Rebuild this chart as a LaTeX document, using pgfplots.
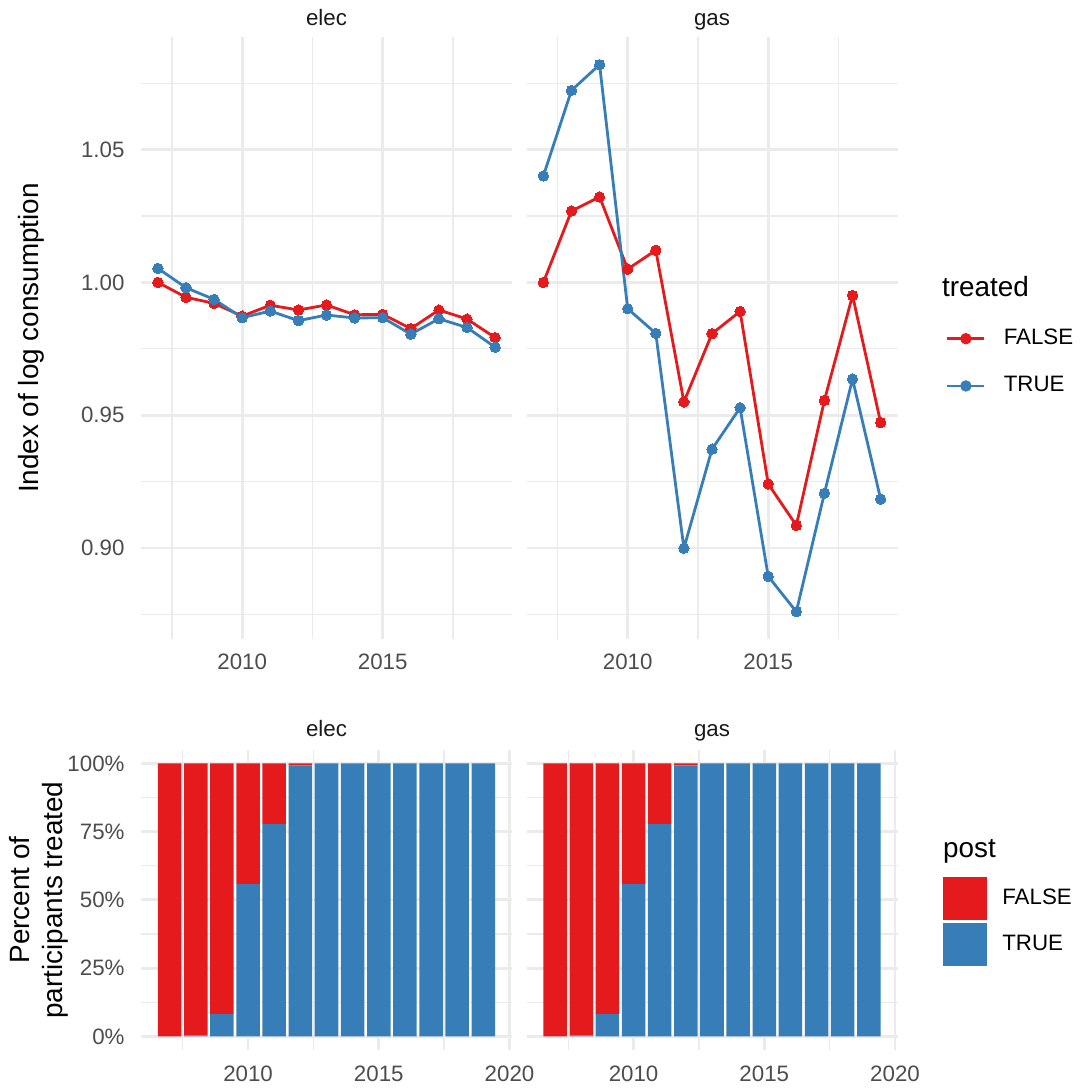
\documentclass[border=0pt]{standalone}
\usepackage{fontspec}
\setmainfont{Liberation Sans}
\usepackage{pgfplots}
\pgfplotsset{compat=1.18}

% one device pixel of the layout grid
\newlength\px
\setlength\px{0.3946pt}

\definecolor{setred}{HTML}{E41A1C}
\definecolor{setblue}{HTML}{377EB8}
\definecolor{gridgray}{HTML}{EBEBEB}
\definecolor{ticktext}{HTML}{4D4D4D}
\definecolor{striptext}{HTML}{1A1A1A}

\newcommand\ticksize{\fontsize{8.8}{10}\selectfont}
\newcommand\titlesize{\fontsize{11}{13}\selectfont}

\pgfplotsset{
  facet/.style={
    scale only axis, width=371\px,
    axis line style={draw=none},
    major tick length=0pt, minor tick length=0pt,
    grid=both,
    major grid style={draw=gridgray, line width=2.8\px},
    minor grid style={draw=gridgray, line width=1.4\px},
    scaled ticks=false,
    tick label style={font=\ticksize, text=ticktext, inner sep=0pt},
    yticklabel style={anchor=east, xshift=-16\px},
    xticklabel style={anchor=north, yshift=-14\px},
  },
  toprow/.style={
    facet, height=601.7\px,
    xmin=2006.4, xmax=2019.6, ymin=0.8657, ymax=1.0923,
    xtick={2010,2015}, xticklabels={2010,2015},
    minor xtick={2007.5,2012.5,2017.5},
    ytick={0.90,0.95,1.00,1.05},
    minor ytick={0.875,0.925,0.975,1.025,1.075},
  },
  bottomrow/.style={
    facet, height=300.3\px,
    xmin=2005.905, xmax=2020.095, ymin=-0.05, ymax=1.05,
    xtick={2010,2015,2020}, xticklabels={2010,2015,2020},
    minor xtick={2007.5,2012.5,2017.5},
    ytick={0,0.25,0.5,0.75,1},
    minor ytick={0.125,0.375,0.625,0.875},
    xticklabel style={yshift=-1\px},
    ybar stacked, bar width=0.9,
  },
  idxline/.style={line width=2.8\px, mark=none},
  idxpts/.style={only marks, mark=*, mark size=5.2\px,
    mark options={draw=#1, fill=#1, line width=0pt}},
  share/.style={fill=#1, draw=none},
}

% index of log consumption, by year
\pgfplotstableread{
year  elecF   elecT   gasF    gasT
2007  1.0000  1.0053  1.0000  1.0401
2008  0.9944  0.9980  1.0269  1.0723
2009  0.9921  0.9936  1.0322  1.0820
2010  0.9873  0.9867  1.0050  0.9901
2011  0.9914  0.9892  1.0121  0.9808
2012  0.9896  0.9856  0.9550  0.8999
2013  0.9915  0.9877  0.9807  0.9372
2014  0.9878  0.9866  0.9891  0.9528
2015  0.9880  0.9867  0.9241  0.8893
2016  0.9826  0.9805  0.9085  0.8760
2017  0.9896  0.9863  0.9556  0.9206
2018  0.9862  0.9830  0.9951  0.9636
2019  0.9792  0.9756  0.9472  0.9184
}\indexdata

% share of participants treated (post) by year
\pgfplotstableread{
year  postT  postF
2007  0.000  1.000
2008  0.004  0.996
2009  0.082  0.918
2010  0.558  0.442
2011  0.777  0.223
2012  0.993  0.007
2013  1.000  0.000
2014  1.000  0.000
2015  1.000  0.000
2016  1.000  0.000
2017  1.000  0.000
2018  1.000  0.000
2019  1.000  0.000
}\sharedata

\begin{document}
\begin{tikzpicture}
\path[use as bounding box, fill=white] (0,0) rectangle (1084\px,-1091\px);

% ---- top row: index of log consumption ----
\begin{axis}[toprow, at={(141\px,-639\px)}, anchor=south west,
  yticklabels={0.90,0.95,1.00,1.05}]
  \addplot[idxline, setred]  table[x=year, y=elecF] {\indexdata};
  \addplot[idxline, setblue] table[x=year, y=elecT] {\indexdata};
  \addplot[idxpts=setred]  table[x=year, y=elecF] {\indexdata};
  \addplot[idxpts=setblue] table[x=year, y=elecT] {\indexdata};
\end{axis}

\begin{axis}[toprow, at={(526.5\px,-639\px)}, anchor=south west,
  yticklabels={},
  legend style={at={(axis description cs:1.1307,0.5152)}, anchor=north west,
    draw=none, fill=none, inner sep=0pt, outer sep=0pt,
    row sep=28\px, column sep=18\px,
    nodes={inner sep=0pt}, font=\ticksize},
  legend cell align=left]
  \addlegendimage{legend image code/.code={
      \draw[setred, line width=2.8\px] (0,0) -- (37\px,0);
      \fill[setred] (18.5\px,0) circle (5.2\px);}}
  \addlegendentry{FALSE}
  \addlegendimage{legend image code/.code={
      \draw[setblue, line width=2.8\px] (0,0) -- (37\px,0);
      \fill[setblue] (18.5\px,0) circle (5.2\px);}}
  \addlegendentry{TRUE}
  \addplot[idxline, setred, forget plot]  table[x=year, y=gasF] {\indexdata};
  \addplot[idxline, setblue, forget plot] table[x=year, y=gasT] {\indexdata};
  \addplot[idxpts=setred, forget plot]  table[x=year, y=gasF] {\indexdata};
  \addplot[idxpts=setblue, forget plot] table[x=year, y=gasT] {\indexdata};
\end{axis}

% ---- bottom row: percent of participants treated ----
\begin{axis}[bottomrow, at={(141\px,-1050\px)}, anchor=south west,
  yticklabels={0\%,25\%,50\%,75\%,100\%}]
  \addplot[share=setblue] table[x=year, y=postT] {\sharedata};
  \addplot[share=setred]  table[x=year, y=postF] {\sharedata};
\end{axis}

\begin{axis}[bottomrow, at={(526.5\px,-1050\px)}, anchor=south west,
  yticklabels={},
  legend style={at={(axis description cs:1.1235,0.5751)}, anchor=north west,
    draw=none, fill=none, inner sep=0pt, outer sep=0pt,
    row sep=3\px, column sep=15.3\px,
    nodes={inner sep=0pt}, font=\ticksize},
  legend cell align=left]
  \addlegendimage{legend image code/.code={
      \fill[setred] (0,-20.85\px) rectangle (42.7\px,20.85\px);}}
  \addlegendentry{FALSE}
  \addlegendimage{legend image code/.code={
      \fill[setblue] (0,-20.85\px) rectangle (42.7\px,20.85\px);}}
  \addlegendentry{TRUE}
  \addplot[share=setblue, forget plot] table[x=year, y=postT] {\sharedata};
  \addplot[share=setred, forget plot]  table[x=year, y=postF] {\sharedata};
\end{axis}

% ---- facet strips, axis titles, legend titles ----
\begin{scope}[every node/.style={inner sep=0pt}]
  \node[anchor=base, font=\ticksize, text=striptext] at (326.5\px,-25.5\px) {elec};
  \node[anchor=base, font=\ticksize, text=striptext] at (712\px,-25.5\px) {gas};
  \node[anchor=base, font=\ticksize, text=striptext] at (326.5\px,-736.7\px) {elec};
  \node[anchor=base, font=\ticksize, text=striptext] at (712\px,-736.7\px) {gas};

  \node[rotate=90, anchor=north, font=\titlesize] at (18\px,-338\px)
    {Index of log consumption};
  \node[rotate=90, anchor=north, font=\titlesize, align=center]
    at (9\px,-900\px) {Percent of\\participants treated};

  \node[anchor=base west, font=\titlesize] at (941.7\px,-296\px) {treated};
  \node[anchor=base west, font=\titlesize] at (942.7\px,-857\px) {post};
\end{scope}
\end{tikzpicture}
\end{document}
